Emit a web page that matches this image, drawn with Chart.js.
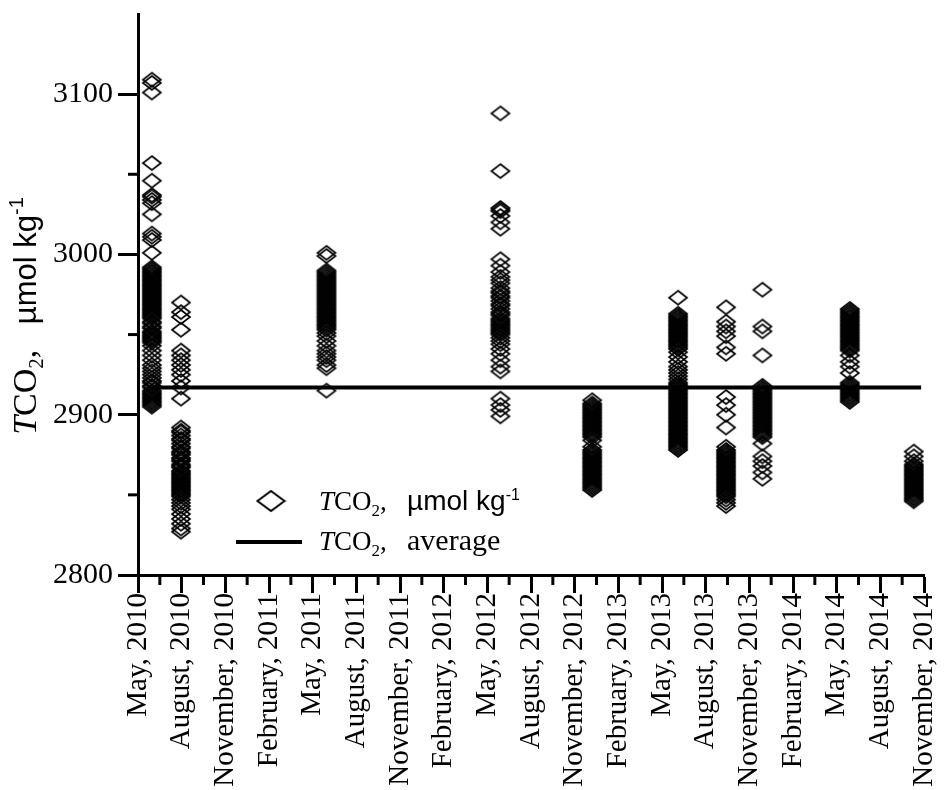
<!DOCTYPE html>
<html>
<head>
<meta charset="utf-8">
<script src="https://cdn.jsdelivr.net/npm/chart.js@4.4.1/dist/chart.umd.min.js"></script>
<style>
  html, body { margin: 0; padding: 0; background: #fff; }
</style>
</head>
<body>
<canvas id="tco2Chart" width="949" height="790"></canvas>
<script>
// x is counted in months from May 2010
var xTickLabels = ['May, 2010', 'August, 2010', 'November, 2010', 'February, 2011', 'May, 2011',
  'August, 2011', 'November, 2011', 'February, 2012', 'May, 2012', 'August, 2012',
  'November, 2012', 'February, 2013', 'May, 2013', 'August, 2013', 'November, 2013',
  'February, 2014', 'May, 2014', 'August, 2014', 'November, 2014'];
var yTicks = [2800, 2900, 3000, 3100];

// sampling campaigns (month position) and the TCO2 values read for each
var campaignMonths = [0.95, 2.95, 12.95, 24.9, 31.2, 37.1, 40.4, 42.9, 48.9, 53.3];
var jun2010 = [3109, 3107, 3101, 3057, 3046, 3037, 3036, 3034, 3032, 3025, 3013, 3011, 3009, 3001,
  2992, 2991, 2990, 2989, 2988, 2987, 2986, 2985, 2984, 2983, 2982, 2981, 2980, 2979, 2978, 2977,
  2976, 2975, 2974, 2973, 2972, 2971, 2970, 2969, 2968, 2967, 2966, 2965, 2964, 2963, 2962, 2961,
  2960, 2958, 2957, 2955, 2954, 2952, 2951, 2950, 2949, 2948, 2947, 2946, 2945, 2943, 2940, 2937,
  2934, 2931, 2929, 2927, 2925, 2923, 2921, 2920, 2918, 2917, 2915, 2914, 2913, 2912, 2911, 2910,
  2909, 2908, 2907, 2906, 2905];
var aug2010 = [2970, 2964, 2961, 2953, 2940, 2937, 2934, 2931, 2928, 2925, 2921, 2917, 2910,
  2892, 2890, 2889, 2887, 2885, 2884, 2882, 2880, 2879, 2877, 2876, 2875, 2873, 2872, 2871, 2869,
  2868, 2867, 2865, 2864, 2863, 2862, 2861, 2860, 2859, 2858, 2857, 2856, 2855, 2854, 2853, 2852,
  2851, 2850, 2849, 2847, 2845, 2843, 2841, 2838, 2835, 2832, 2829, 2827];
var jun2011 = [3001, 2999, 2990, 2989, 2988, 2987, 2986, 2985, 2984, 2983, 2982, 2981, 2980, 2979,
  2978, 2977, 2976, 2975, 2974, 2973, 2972, 2971, 2970, 2969, 2968, 2967, 2966, 2965, 2964, 2963,
  2962, 2961, 2960, 2959, 2958, 2957, 2956, 2955, 2954, 2953, 2951, 2949, 2946, 2943, 2940, 2938,
  2936, 2934, 2931, 2929, 2915];
var jun2012 = [3088, 3052, 3029, 3028, 3027, 3024, 3020, 3016, 2997, 2993, 2989, 2986, 2984, 2982,
  2979, 2977, 2976, 2974, 2973, 2971, 2969, 2968, 2966, 2964, 2963, 2962, 2960, 2959, 2958, 2957,
  2956, 2955, 2954, 2953, 2952, 2951, 2950, 2948, 2946, 2944, 2941, 2938, 2934, 2930, 2927, 2910,
  2906, 2903, 2899];
var dec2012 = [2909, 2907, 2906, 2905, 2904, 2903, 2902, 2901, 2900, 2899, 2898, 2897, 2896, 2895,
  2894, 2893, 2892, 2891, 2890, 2889, 2888, 2887, 2886, 2884, 2880, 2878, 2877, 2876, 2875, 2874,
  2873, 2872, 2871, 2870, 2869, 2868, 2867, 2866, 2865, 2864, 2863, 2862, 2861, 2860, 2859, 2858,
  2857, 2856, 2855, 2854, 2853];
var jun2013 = [2973, 2963, 2962, 2961, 2960, 2959, 2958, 2957, 2956, 2955, 2954, 2953, 2952, 2951,
  2950, 2949, 2948, 2947, 2946, 2945, 2944, 2943, 2942, 2941, 2939, 2936, 2933, 2930, 2928, 2926,
  2924, 2922, 2920, 2919, 2918, 2917, 2916, 2915, 2914, 2913, 2912, 2911, 2910, 2909, 2908, 2907,
  2906, 2905, 2904, 2903, 2902, 2901, 2900, 2899, 2898, 2897, 2896, 2895, 2894, 2893, 2892, 2891,
  2890, 2889, 2888, 2887, 2886, 2885, 2884, 2883, 2882, 2881, 2880, 2879, 2878];
var sep2013 = [2967, 2958, 2955, 2952, 2949, 2942, 2938, 2911, 2906, 2900, 2892, 2880, 2878, 2877,
  2876, 2875, 2874, 2873, 2872, 2871, 2870, 2869, 2868, 2867, 2866, 2865, 2864, 2863, 2862, 2861,
  2860, 2859, 2858, 2857, 2856, 2855, 2854, 2853, 2852, 2851, 2850, 2849, 2847, 2845, 2843];
var nov2013 = [2978, 2955, 2952, 2937, 2918, 2917, 2916, 2915, 2914, 2913, 2912, 2911, 2910, 2909,
  2908, 2907, 2906, 2905, 2904, 2903, 2902, 2901, 2900, 2899, 2898, 2897, 2896, 2895, 2894, 2893,
  2892, 2891, 2890, 2889, 2888, 2887, 2886, 2882, 2874, 2871, 2868, 2864, 2860];
var may2014 = [2966, 2965, 2964, 2963, 2962, 2961, 2960, 2959, 2958, 2957, 2956, 2955, 2954, 2953,
  2952, 2951, 2950, 2949, 2948, 2947, 2946, 2945, 2944, 2943, 2942, 2941, 2940, 2937, 2933, 2930,
  2926, 2920, 2919, 2918, 2917, 2916, 2915, 2914, 2913, 2912, 2911, 2910, 2909, 2908];
var oct2014 = [2877, 2874, 2871, 2869, 2868, 2867, 2866, 2865, 2864, 2863, 2862, 2861, 2860, 2859,
  2858, 2857, 2856, 2855, 2854, 2853, 2852, 2851, 2850, 2849, 2848, 2847, 2846];
var campaigns = [jun2010, aug2010, jun2011, jun2012, dec2012, jun2013, sep2013, nov2013, may2014, oct2014];

// average line
var avgValue = 2917;
var avgSpan = [1, 53.8];

var points = [];
campaigns.forEach(function (vals, i) {
  vals.forEach(function (v) { points.push({ x: campaignMonths[i], y: v }); });
});

// hollow diamond, a bit wider than tall like in the figure
function makeDiamond(w, h, lw) {
  var c = document.createElement('canvas');
  c.width = w + 4; c.height = h + 4;
  var g = c.getContext('2d');
  var cx = c.width / 2, cy = c.height / 2;
  g.beginPath();
  g.moveTo(cx, cy - h / 2);
  g.lineTo(cx + w / 2, cy);
  g.lineTo(cx, cy + h / 2);
  g.lineTo(cx - w / 2, cy);
  g.closePath();
  g.lineWidth = lw;
  g.strokeStyle = '#000';
  g.stroke();
  return c;
}
var diamond = makeDiamond(18, 14, 1.7);

var serif = '"Liberation Serif", "Times New Roman", serif';
var sans = '"Liberation Sans", Arial, sans-serif';

function drawRich(ctx, parts, x, y) {
  parts.forEach(function (p) {
    ctx.font = p.font;
    ctx.fillText(p.text, x, y + (p.dy || 0));
    x += ctx.measureText(p.text).width;
  });
  return x;
}
function richWidth(ctx, parts) {
  var w = 0;
  parts.forEach(function (p) { ctx.font = p.font; w += ctx.measureText(p.text).width; });
  return w;
}
function tcoParts(size, unitText, unitFont, sup) {
  var parts = [
    { text: 'T', font: 'italic ' + size + 'px ' + serif },
    { text: 'CO', font: size + 'px ' + serif },
    { text: '2', font: Math.round(size * 0.62) + 'px ' + serif, dy: Math.round(size * 0.22) },
    { text: ',   ', font: size + 'px ' + serif },
    { text: unitText, font: unitFont }
  ];
  if (sup) parts.push({ text: sup, font: Math.round(size * 0.6) + 'px ' + sans, dy: -Math.round(size * 0.38) });
  return parts;
}

// minor ticks, y title and the in-plot legend
var extras = {
  id: 'extras',
  afterDraw: function (chart) {
    var ctx = chart.ctx, xs = chart.scales.x, ys = chart.scales.y, a = chart.chartArea;
    ctx.save();
    ctx.strokeStyle = '#000';
    ctx.fillStyle = '#000';
    ctx.lineWidth = 3;
    for (var m = 1.5; m < 54; m += 3) {
      var px = xs.getPixelForValue(m);
      ctx.beginPath(); ctx.moveTo(px, a.bottom); ctx.lineTo(px, a.bottom + 10); ctx.stroke();
    }
    [2850, 2950, 3050].forEach(function (v) {
      var py = ys.getPixelForValue(v);
      ctx.beginPath(); ctx.moveTo(a.left, py); ctx.lineTo(a.left - 10, py); ctx.stroke();
    });

    // y axis title
    ctx.textBaseline = 'alphabetic';
    var tParts = tcoParts(34, 'µmol kg', '31px ' + sans, '-1');
    ctx.save();
    ctx.translate(36, 316);
    ctx.rotate(-Math.PI / 2);
    drawRich(ctx, tParts, -richWidth(ctx, tParts) / 2, 0);
    ctx.restore();

    // legend
    ctx.drawImage(makeDiamond(27, 20, 2), 271 - 15.5, 501 - 12);
    drawRich(ctx, tcoParts(27, 'µmol kg', '28px ' + sans, '-1'), 319, 510);
    ctx.lineWidth = 4;
    ctx.beginPath(); ctx.moveTo(236, 542); ctx.lineTo(302, 542); ctx.stroke();
    drawRich(ctx, tcoParts(27, 'average', '30px ' + serif), 319, 550);
    ctx.restore();
  }
};

new Chart(document.getElementById('tco2Chart').getContext('2d'), {
  type: 'scatter',
  data: {
    datasets: [{
      type: 'line',
      label: 'TCO2, average',
      data: [{ x: avgSpan[0], y: avgValue }, { x: avgSpan[1], y: avgValue }],
      borderColor: '#000',
      borderWidth: 4,
      pointRadius: 0,
      fill: false
    }, {
      label: 'TCO2, µmol kg-1',
      data: points,
      pointStyle: diamond,
      pointRadius: 9
    }]
  },
  options: {
    responsive: false,
    animation: false,
    layout: { padding: { left: 0, right: 25, top: 14, bottom: 0 } },
    plugins: { legend: { display: false }, tooltip: { enabled: false } },
    scales: {
      x: {
        type: 'linear',
        min: 0,
        max: 54,
        afterBuildTicks: function (s) {
          s.ticks = xTickLabels.map(function (l, i) { return { value: i * 3 }; });
        },
        afterFit: function (s) {
          s.height = 215;
          s.paddingLeft = 0;
          s.paddingRight = 0;
        },
        ticks: {
          autoSkip: false,
          maxRotation: 90,
          minRotation: 90,
          padding: 0,
          color: '#000',
          font: { family: serif, size: 29 },
          callback: function (v) { return xTickLabels[Math.round(v / 3)]; }
        },
        grid: { drawOnChartArea: false, tickLength: 18, tickWidth: 3, tickColor: '#000' },
        border: { width: 3, color: '#000' }
      },
      y: {
        min: 2800,
        max: 3150,
        afterBuildTicks: function (s) {
          s.ticks = yTicks.map(function (v) { return { value: v }; });
        },
        afterFit: function (s) {
          s.width = 138;
          s.paddingTop = 0;
          s.paddingBottom = 0;
        },
        ticks: {
          padding: 5,
          color: '#000',
          font: { family: serif, size: 30 },
          callback: function (v) { return String(v); }
        },
        grid: { drawOnChartArea: false, tickLength: 20, tickWidth: 3, tickColor: '#000' },
        border: { width: 3, color: '#000' }
      }
    }
  },
  plugins: [extras]
});
</script>
</body>
</html>
